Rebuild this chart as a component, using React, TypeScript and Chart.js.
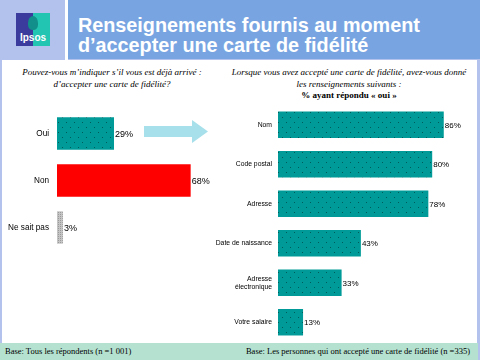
import React, { useEffect, useRef } from "react";
import { Chart, registerables } from "chart.js";
Chart.register(...registerables);

const titleLines = ["Renseignements fournis au moment", "d\u2019accepter une carte de fid\u00e9lit\u00e9"];
const leftQuestion = ["Pouvez-vous m\u2019indiquer s\u2019il vous est d\u00e9j\u00e0 arriv\u00e9 :", "d\u2019accepter une carte de fid\u00e9lit\u00e9?"];
const rightQuestion = ["Lorsque vous avez accept\u00e9 une carte de fid\u00e9lit\u00e9, avez-vous donn\u00e9", "les renseignements suivants :"];
const rightSubtitle = "% ayant r\u00e9pondu \u00ab oui \u00bb";
const leftBase = "Base: Tous les r\u00e9pondents (n =1 001)";
const rightBase = "Base: Les personnes qui ont accept\u00e9 une carte de fid\u00e9lit\u00e9 (n =335)";

const leftCategories = ["Oui", "Non", "Ne sait pas"];
const leftValues = [29, 68, 3];
const rightCategories: (string | string[])[] = [
  "Nom",
  "Code postal",
  "Adresse",
  "Date de naissance",
  ["Adresse", "\u00e9lectronique"],
  "Votre salaire",
];
const rightValues = [86, 80, 78, 43, 33, 13];

const SANS = "'Liberation Sans', Arial, sans-serif";
const SERIF = "'Liberation Serif', 'Times New Roman', serif";

function makePattern(base: string, dot: string, w: number, h: number, dots: [number, number][]) {
  const c = document.createElement("canvas");
  c.width = w;
  c.height = h;
  const g = c.getContext("2d")!;
  g.fillStyle = base;
  g.fillRect(0, 0, w, h);
  g.fillStyle = dot;
  dots.forEach(([x, y]) => g.fillRect(x, y, 1, 1));
  return g.createPattern(c, "repeat")!;
}

const tealPattern = () =>
  makePattern("#009b98", "#005c5a", 8, 10, [
    [2, 2],
    [6, 7],
  ]);

function valueLabelPlugin(font: string) {
  return {
    id: "valueLabels",
    afterDatasetsDraw(chart: any) {
      const ctx = chart.ctx;
      const meta = chart.getDatasetMeta(0);
      const data = chart.data.datasets[0].data;
      ctx.save();
      ctx.font = font;
      ctx.fillStyle = "#000";
      ctx.textAlign = "left";
      ctx.textBaseline = "middle";
      meta.data.forEach((bar: any, i: number) => {
        ctx.fillText(data[i] + "%", bar.x + 1, bar.y + 1);
      });
      ctx.restore();
    },
  };
}

function BarCanvas(props: {
  labels: (string | string[])[];
  values: number[];
  colors: () => any[];
  max: number;
  axisWidth: number;
  tickPad: number;
  tickFont: number;
  valueFont: string;
  barPct: number;
  style: React.CSSProperties;
  width: number;
  height: number;
}) {
  const ref = useRef<HTMLCanvasElement>(null);
  useEffect(() => {
    const canvas = ref.current!;
    const chart = new Chart(canvas, {
      type: "bar",
      data: {
        labels: props.labels as any,
        datasets: [
          {
            data: props.values,
            backgroundColor: props.colors(),
            borderWidth: 0,
            barPercentage: props.barPct,
            categoryPercentage: 1,
          },
        ],
      },
      options: {
        indexAxis: "y",
        responsive: false,
        animation: false,
        devicePixelRatio: 1,
        layout: { padding: 0, autoPadding: false },
        plugins: { legend: { display: false }, tooltip: { enabled: false } },
        scales: {
          x: { display: false, min: 0, max: props.max },
          y: {
            grid: { display: false, drawTicks: false },
            border: { display: false },
            ticks: {
              color: "#000",
              padding: props.tickPad,
              font: { family: SANS, size: props.tickFont, lineHeight: 1.15 },
            },
            afterFit: (s: any) => {
              s.width = props.axisWidth;
              s.paddingTop = 0;
              s.paddingBottom = 0;
            },
          },
        },
      },
      plugins: [valueLabelPlugin(props.valueFont)],
    } as any);
    return () => chart.destroy();
  }, []);
  return <canvas ref={ref} width={props.width} height={props.height} style={{ position: "absolute", ...props.style }} />;
}

export default function App() {
  return (
    <div
      style={{
        position: "absolute",
        left: 0,
        top: 0,
        width: 480,
        height: 360,
        overflow: "hidden",
        background: "#b3c2ec",
      }}
    >
      {/* white content area */}
      <div style={{ position: "absolute", left: 2, top: 60, width: 475, height: 283, background: "#fff" }} />
      {/* header blue */}
      <div style={{ position: "absolute", left: 68, top: 0, width: 412, height: 59, background: "#78a5e2" }} />
      <div style={{ position: "absolute", left: 65, top: 0, width: 3, height: 60, background: "#fff" }} />
      {/* logo */}
      <div style={{ position: "absolute", left: 16, top: 13, width: 17, height: 33, background: "#3b3b9d" }} />
      <div style={{ position: "absolute", left: 33, top: 13, width: 17, height: 33, background: "#22c4b2" }} />
      <div
        style={{
          position: "absolute",
          left: 28,
          top: 16,
          width: 10,
          height: 14,
          borderRadius: "50% 50% 40% 40%",
          background: "#128f8a",
        }}
      />
      <div
        style={{
          position: "absolute",
          left: 16,
          top: 32,
          width: 34,
          textAlign: "center",
          color: "#fff",
          font: `bold 10px ${SANS}`,
          lineHeight: "12px",
        }}
      >
        Ipsos
      </div>
      {/* title */}
      <div
        style={{
          position: "absolute",
          left: 78,
          top: 15,
          color: "#fff",
          font: `bold 19.8px ${SANS}`,
          lineHeight: "20px",
          whiteSpace: "nowrap",
        }}
      >
        {titleLines.map((t, i) => (
          <div key={i}>{t}</div>
        ))}
      </div>
      {/* footer */}
      <div style={{ position: "absolute", left: 0, top: 343, width: 478, height: 17, background: "#b5e2d0" }} />
      <div
        style={{
          position: "absolute",
          left: 5,
          top: 346,
          font: `8.5px ${SERIF}`,
          color: "#000",
          whiteSpace: "nowrap",
        }}
      >
        {leftBase}
      </div>
      <div
        style={{
          position: "absolute",
          right: 10,
          top: 346,
          font: `8.5px ${SERIF}`,
          color: "#000",
          whiteSpace: "nowrap",
        }}
      >
        {rightBase}
      </div>
      {/* questions */}
      <div
        style={{
          position: "absolute",
          left: 12,
          width: 200,
          top: 67,
          textAlign: "center",
          font: `italic 9px ${SERIF}`,
          lineHeight: "11.5px",
          whiteSpace: "nowrap",
        }}
      >
        {leftQuestion.map((t, i) => (
          <div key={i}>{t}</div>
        ))}
      </div>
      <div
        style={{
          position: "absolute",
          left: 228,
          width: 242,
          top: 67,
          textAlign: "center",
          font: `italic 9px ${SERIF}`,
          lineHeight: "11.5px",
          whiteSpace: "nowrap",
        }}
      >
        {rightQuestion.map((t, i) => (
          <div key={i}>{t}</div>
        ))}
        <div style={{ fontStyle: "normal", fontWeight: "bold", lineHeight: "10px" }}>{rightSubtitle}</div>
      </div>
      {/* arrow */}
      <svg width={480} height={360} style={{ position: "absolute", left: 0, top: 0 }}>
        <polygon points="144,126 192,126 192,120 208,131.5 192,143 192,137 144,137" fill="#a7e0ea" />
      </svg>
      {/* charts */}
      <BarCanvas
        labels={leftCategories}
        values={leftValues}
        colors={() => [tealPattern(), "#ff0000", makePattern("#c4c4c4", "#9a9a9a", 2, 2, [[0, 0]])]}
        max={93.1}
        axisWidth={57}
        tickPad={8}
        tickFont={8.2}
        valueFont={`9px ${SANS}`}
        barPct={0.69}
        width={240}
        height={141}
        style={{ left: 0, top: 110 }}
      />
      <BarCanvas
        labels={rightCategories}
        values={rightValues}
        colors={() => rightValues.map(() => tealPattern())}
        max={104.8}
        axisWidth={78}
        tickPad={6}
        tickFont={6.8}
        valueFont={`8px ${SANS}`}
        barPct={0.67}
        width={280}
        height={237}
        style={{ left: 200, top: 105 }}
      />
    </div>
  );
}
